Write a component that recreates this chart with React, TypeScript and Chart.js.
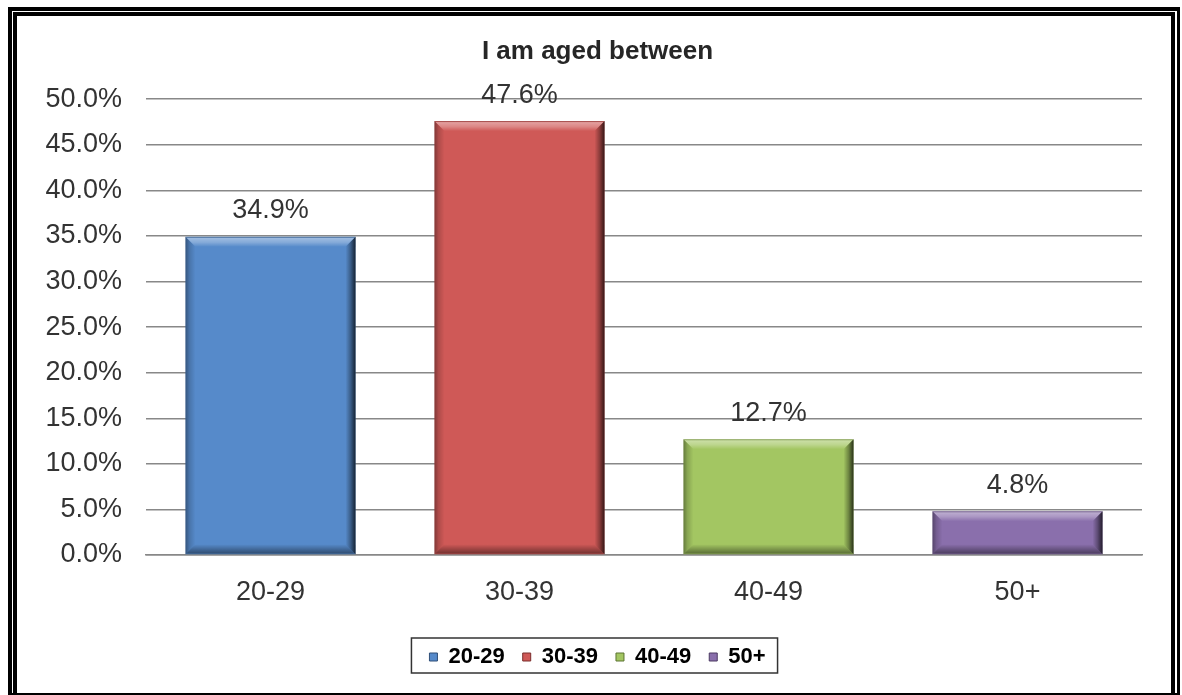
import React, { useEffect, useRef } from "react";
import { Chart, registerables } from "chart.js";

Chart.register(...registerables);

const TITLE = "I am aged between";
const CATEGORIES = ["20-29", "30-39", "40-49", "50+"];
const VALUES = [34.9, 47.6, 12.7, 4.8];
const COLORS = ["#568ACA", "#CF5957", "#A3C662", "#8A6FAC"];
const EDGE_COLORS = ["#2F4F78", "#7A2E2D", "#5C7432", "#4C3B63"];
const Y_MIN = 0;
const Y_MAX = 50;
const Y_STEP = 5;

const FONT = "'Liberation Sans', Arial, Helvetica, sans-serif";

const bevelPlugin = {
  id: "bevelAndLabels",
  afterDatasetsDraw(chart: any) {
    const ctx = chart.ctx;
    const meta = chart.getDatasetMeta(0);
    meta.data.forEach((el: any, i: number) => {
      const x0 = el.x - el.width / 2;
      const x1 = el.x + el.width / 2;
      const y0 = Math.min(el.y, el.base);
      const y1 = Math.max(el.y, el.base);
      const h = y1 - y0;
      const b = Math.min(10, h / 3, el.width / 3);
      ctx.save();
      // top
      let g = ctx.createLinearGradient(0, y0, 0, y0 + b);
      g.addColorStop(0, "rgba(0,0,0,0.2)");
      g.addColorStop(0.15, "rgba(255,255,255,0.42)");
      g.addColorStop(0.55, "rgba(255,255,255,0.28)");
      g.addColorStop(1, "rgba(255,255,255,0)");
      ctx.fillStyle = g;
      ctx.beginPath();
      ctx.moveTo(x0, y0);
      ctx.lineTo(x1, y0);
      ctx.lineTo(x1 - b, y0 + b);
      ctx.lineTo(x0 + b, y0 + b);
      ctx.closePath();
      ctx.fill();
      // left
      g = ctx.createLinearGradient(x0, 0, x0 + b, 0);
      g.addColorStop(0, "rgba(0,0,0,0.38)");
      g.addColorStop(0.4, "rgba(0,0,0,0.16)");
      g.addColorStop(1, "rgba(0,0,0,0)");
      ctx.fillStyle = g;
      ctx.beginPath();
      ctx.moveTo(x0, y0);
      ctx.lineTo(x0 + b, y0 + b);
      ctx.lineTo(x0 + b, y1 - b);
      ctx.lineTo(x0, y1);
      ctx.closePath();
      ctx.fill();
      // right
      g = ctx.createLinearGradient(x1 - b, 0, x1, 0);
      g.addColorStop(0, "rgba(0,0,0,0)");
      g.addColorStop(0.5, "rgba(0,0,0,0.32)");
      g.addColorStop(1, "rgba(0,0,0,0.75)");
      ctx.fillStyle = g;
      ctx.beginPath();
      ctx.moveTo(x1, y0);
      ctx.lineTo(x1, y1);
      ctx.lineTo(x1 - b, y1 - b);
      ctx.lineTo(x1 - b, y0 + b);
      ctx.closePath();
      ctx.fill();
      // bottom
      g = ctx.createLinearGradient(0, y1 - b, 0, y1);
      g.addColorStop(0, "rgba(0,0,0,0)");
      g.addColorStop(0.5, "rgba(0,0,0,0.24)");
      g.addColorStop(0.85, "rgba(0,0,0,0.4)");
      g.addColorStop(1, "rgba(0,0,0,0.2)");
      ctx.fillStyle = g;
      ctx.beginPath();
      ctx.moveTo(x0, y1);
      ctx.lineTo(x1, y1);
      ctx.lineTo(x1 - b, y1 - b);
      ctx.lineTo(x0 + b, y1 - b);
      ctx.closePath();
      ctx.fill();
      ctx.restore();

      // data label
      ctx.save();
      ctx.font = `27px ${FONT}`;
      ctx.fillStyle = "#333333";
      ctx.textAlign = "center";
      ctx.textBaseline = "middle";
      ctx.fillText(VALUES[i].toFixed(1) + "%", el.x, y0 - 26);
      ctx.restore();
    });
  },
  afterDraw(chart: any) {
    const legend = chart.legend;
    if (!legend || !legend.legendHitBoxes || !legend.legendHitBoxes.length) return;
    const boxes = legend.legendHitBoxes;
    let minL = Infinity;
    let maxR = -Infinity;
    let cy = 0;
    boxes.forEach((hb: any) => {
      minL = Math.min(minL, hb.left);
      maxR = Math.max(maxR, hb.left + hb.width);
      cy = hb.top + hb.height / 2;
    });
    const ctx = chart.ctx;
    ctx.save();
    ctx.strokeStyle = "#333333";
    ctx.lineWidth = 1.5;
    ctx.strokeRect(minL - 18, cy - 19, maxR - minL + 30, 35);
    ctx.restore();
  },
};

export default function App() {
  const canvasRef = useRef<HTMLCanvasElement | null>(null);

  useEffect(() => {
    if (!canvasRef.current) return;
    const chart = new Chart(canvasRef.current, {
      type: "bar",
      data: {
        labels: CATEGORIES,
        datasets: [
          {
            label: TITLE,
            data: VALUES,
            backgroundColor: COLORS,
            borderWidth: 0,
            categoryPercentage: 1,
            barPercentage: 0.683,
          },
        ],
      },
      options: {
        responsive: false,
        devicePixelRatio: 1,
        animation: false,
        layout: { padding: { left: 20, right: 7, top: 0, bottom: 17 } },
        plugins: {
          title: {
            display: true,
            text: TITLE,
            color: "#262626",
            font: { family: FONT, size: 26, weight: "bold" },
            padding: { top: 36, bottom: 32 },
          },
          tooltip: { enabled: false },
          legend: {
            display: true,
            position: "bottom",
            labels: {
              font: { family: FONT, size: 22, weight: "bold" },
              color: "#262626",
              boxWidth: 8,
              boxHeight: 8,
              padding: 18,
              generateLabels: () =>
                CATEGORIES.map((c, i) => ({
                  text: c,
                  fillStyle: COLORS[i],
                  strokeStyle: EDGE_COLORS[i],
                  lineWidth: 1,
                  hidden: false,
                  index: i,
                  datasetIndex: 0,
                })),
            },
          },
        },
        scales: {
          x: {
            grid: { display: false, drawTicks: false },
            border: { display: true, color: "#888888", width: 1.5 },
            ticks: {
              padding: 21,
              color: "#333333",
              font: { family: FONT, size: 27 },
            },
            afterFit: (scale: any) => {
              scale.height = 73;
            },
          },
          y: {
            min: Y_MIN,
            max: Y_MAX,
            grid: { color: "#888888", lineWidth: 1.5, drawTicks: false },
            border: { display: false },
            ticks: {
              stepSize: Y_STEP,
              padding: 24,
              color: "#333333",
              font: { family: FONT, size: 27 },
              callback: (v: any) => Number(v).toFixed(1) + "%",
            },
            afterFit: (scale: any) => {
              scale.width = 126;
            },
          },
          yRight: {
            position: "right",
            display: true,
            min: Y_MIN,
            max: Y_MAX,
            grid: { display: false, drawTicks: false },
            border: { display: false },
            ticks: { display: false },
            afterFit: (scale: any) => {
              scale.width = 33;
            },
          },
        },
      } as any,
      plugins: [bevelPlugin],
    });
    return () => chart.destroy();
  }, []);

  return (
    <div style={{ position: "relative", width: 1182, height: 695, overflow: "hidden", background: "#fff" }}>
      <style>{`html,body{margin:0;padding:0;overflow:hidden;background:#fff}`}</style>
      <canvas
        ref={canvasRef}
        width={1182}
        height={695}
        style={{ position: "absolute", left: 0, top: 0, width: 1182, height: 695 }}
      />
      <div
        style={{
          position: "absolute",
          left: 8,
          top: 7,
          width: 1172,
          height: 688,
          boxSizing: "border-box",
          borderTop: "4px solid #000",
          borderLeft: "4px solid #000",
          borderRight: "3px solid #000",
          borderBottom: "2px solid #000",
          pointerEvents: "none",
        }}
      />
      <div
        style={{
          position: "absolute",
          left: 13,
          top: 12,
          width: 1162,
          height: 681,
          boxSizing: "border-box",
          borderTop: "4px solid #000",
          borderLeft: "4px solid #000",
          borderRight: "4px solid #000",
          pointerEvents: "none",
        }}
      />
    </div>
  );
}
